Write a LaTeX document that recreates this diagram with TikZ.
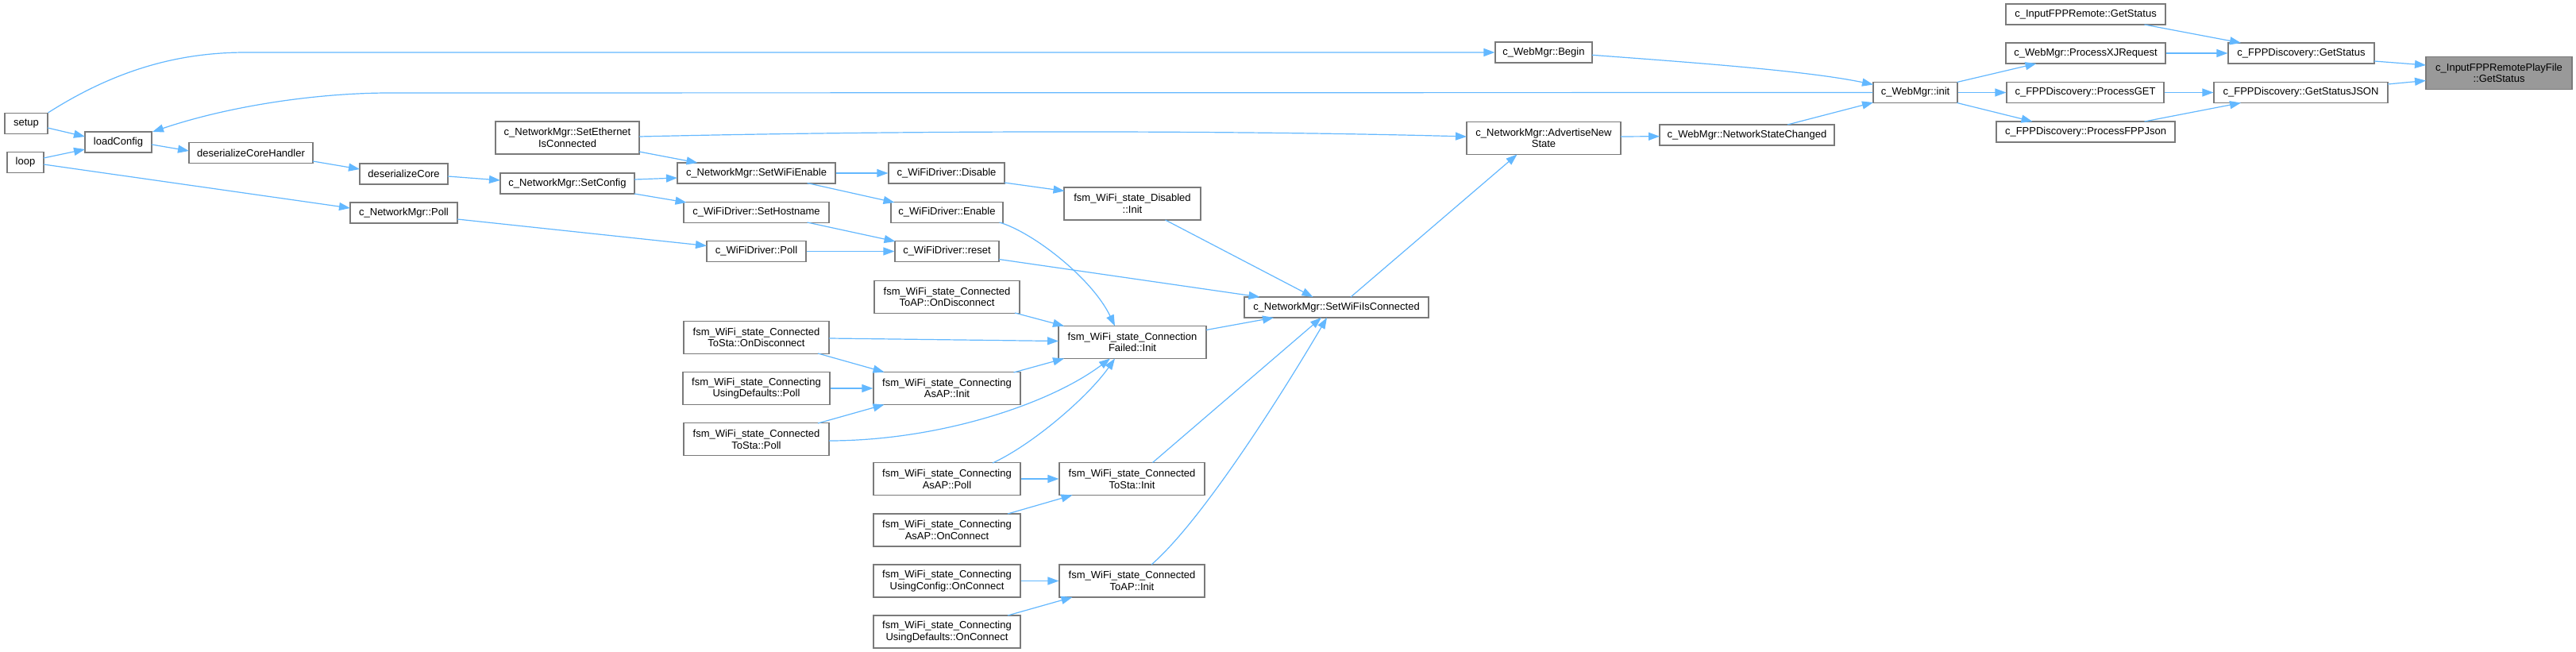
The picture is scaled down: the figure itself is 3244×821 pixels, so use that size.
\documentclass[tikz,border=0pt]{standalone}
\usepackage{fontspec}
\setmainfont{Liberation Sans}
\usetikzlibrary{calc,arrows.meta}
\definecolor{edgeblue}{HTML}{63B8FF}
\definecolor{boxgray}{HTML}{7A7A7A}
\definecolor{targetfill}{HTML}{999999}
\newcommand\fs{\fontsize{13}{14.7}\selectfont}
\tikzset{
  box/.style={draw=boxgray, fill=white, line width=1.1pt, inner sep=0pt, align=center, font=\fs, minimum height=26pt},
  boxtwo/.style={box, minimum height=41pt},
  edge/.style={draw=edgeblue, line width=1.2pt, -{Triangle[length=14pt,width=10pt]}},
}
\begin{document}
\begin{tikzpicture}[x=1pt,y=-1pt]
\useasboundingbox (0,0) rectangle (3244,821);
\fill[white] (0,0) rectangle (3244,821);
% nodes
\node[box, minimum width=54pt] (setup) at (33,155.5) {setup};
\node[box, minimum width=46pt] (loop) at (32,204.5) {loop};
\node[box, minimum width=84pt] (loadcfg) at (149,179) {loadConfig};
\node[box, minimum width=156pt] (dch) at (316,192.5) {deserializeCoreHandler};
\node[box, minimum width=111pt] (dcore) at (508.5,219) {deserializeCore};
\node[boxtwo, minimum width=181pt] (ether) at (714.5,173.5) {c\_NetworkMgr::SetEthernet\\IsConnected};
\node[box, minimum width=169pt] (setconfig) at (714.5,231) {c\_NetworkMgr::SetConfig};
\node[box, minimum width=135pt] (nmpoll) at (508.5,268) {c\_NetworkMgr::Poll};
\node[box, minimum width=199pt] (setenable) at (952.5,218) {c\_NetworkMgr::SetWiFiEnable};
\node[box, minimum width=183pt] (sethost) at (952.5,267.5) {c\_WiFiDriver::SetHostname};
\node[box, minimum width=125pt] (wdpoll) at (952.5,316.5) {c\_WiFiDriver::Poll};
\node[boxtwo, minimum width=183pt] (tostaondis) at (952.5,425) {fsm\_WiFi\_state\_Connected\\ToSta::OnDisconnect};
\node[boxtwo, minimum width=185pt] (udpoll) at (952.5,489) {fsm\_WiFi\_state\_Connecting\\UsingDefaults::Poll};
\node[boxtwo, minimum width=183pt] (tostapoll) at (952.5,553) {fsm\_WiFi\_state\_Connected\\ToSta::Poll};
\node[box, minimum width=146pt] (disable) at (1192,218) {c\_WiFiDriver::Disable};
\node[box, minimum width=141pt] (enable) at (1192.5,267.5) {c\_WiFiDriver::Enable};
\node[box, minimum width=131pt] (reset) at (1192.5,316.5) {c\_WiFiDriver::reset};
\node[boxtwo, minimum width=183pt] (toapondis) at (1192.5,374) {fsm\_WiFi\_state\_Connected\\ToAP::OnDisconnect};
\node[boxtwo, minimum width=185pt] (asapinit) at (1192.5,489) {fsm\_WiFi\_state\_Connecting\\AsAP::Init};
\node[boxtwo, minimum width=185pt] (asappoll) at (1192.5,603) {fsm\_WiFi\_state\_Connecting\\AsAP::Poll};
\node[boxtwo, minimum width=185pt] (asaponconn) at (1192.5,667.5) {fsm\_WiFi\_state\_Connecting\\AsAP::OnConnect};
\node[boxtwo, minimum width=185pt] (uconfonconn) at (1192.5,731.5) {fsm\_WiFi\_state\_Connecting\\UsingConfig::OnConnect};
\node[boxtwo, minimum width=185pt] (udonconn) at (1192.5,795.5) {fsm\_WiFi\_state\_Connecting\\UsingDefaults::OnConnect};
\node[boxtwo, minimum width=172pt] (disinit) at (1426,256.5) {fsm\_WiFi\_state\_Disabled\\::Init};
\node[boxtwo, minimum width=186pt] (cfinit) at (1426,431) {fsm\_WiFi\_state\_Connection\\Failed::Init};
\node[boxtwo, minimum width=183pt] (tostainit) at (1425.5,603) {fsm\_WiFi\_state\_Connected\\ToSta::Init};
\node[boxtwo, minimum width=183pt] (toapinit) at (1425.5,731.5) {fsm\_WiFi\_state\_Connected\\ToAP::Init};
\node[box, minimum width=232pt] (setwific) at (1683,387) {c\_NetworkMgr::SetWiFiIsConnected};
\node[box, minimum width=122pt] (begin) at (1944,66) {c\_WebMgr::Begin};
\node[boxtwo, minimum width=194pt] (adv) at (1944,174) {c\_NetworkMgr::AdvertiseNew\\State};
\node[box, minimum width=220pt] (nsc) at (2200,170) {c\_WebMgr::NetworkStateChanged};
\node[box, minimum width=106pt] (init) at (2412,116.5) {c\_WebMgr::init};
\node[box, minimum width=201pt] (ifpp) at (2626.5,18) {c\_InputFPPRemote::GetStatus};
\node[box, minimum width=201pt] (xj) at (2626.5,67) {c\_WebMgr::ProcessXJRequest};
\node[box, minimum width=198pt] (pget) at (2626,116.5) {c\_FPPDiscovery::ProcessGET};
\node[box, minimum width=225pt] (pfpp) at (2626.5,166) {c\_FPPDiscovery::ProcessFPPJson};
\node[box, minimum width=184pt] (fgs) at (2898,67) {c\_FPPDiscovery::GetStatus};
\node[box, minimum width=219pt] (gsj) at (2897.5,116.5) {c\_FPPDiscovery::GetStatusJSON};
\node[boxtwo, minimum width=184pt, fill=targetfill] (target) at (3147,92) {c\_InputFPPRemotePlayFile\\::GetStatus};
% edges
\draw[edge] (setup.north east) .. controls (150,85) and (230,66) .. (310,66) -- (begin.west);
\draw[edge] ($(setup)+(27,5.5)$) -- ($(loadcfg)+(-42,-7)$);
\draw[edge] ($(loop)+(23,-5.5)$) -- ($(loadcfg)+(-42,9)$);
\draw[edge] ($(loop)+(23,2.5)$) -- ($(nmpoll)+(-67.5,-6)$);
\draw[edge] (init.west) -- (491,117) .. controls (400,117) and (290,133) .. ($(loadcfg)+(43,-13)$);
\draw[edge] ($(loadcfg)+(42,3)$) -- ($(dch)+(-78,-2.5)$);
\draw[edge] ($(dch)+(78,10.5)$) -- ($(dcore)+(-55.5,-6)$);
\draw[edge] ($(dcore)+(55.5,3)$) -- ($(setconfig)+(-84.5,-4)$);
\draw[edge] ($(ether)+(90.5,17.5)$) -- ($(setenable)+(-74,-13)$);
\draw[edge] ($(ether)+(90.5,-1.5)$) .. controls (1150,164) and (1550,164) .. ($(adv)+(-97,-2)$);
\draw[edge] ($(setconfig)+(84.5,-5)$) -- ($(setenable)+(-99.5,6)$);
\draw[edge] ($(setconfig)+(84.5,13)$) -- ($(sethost)+(-88,-12.5)$);
\draw[edge] ($(nmpoll)+(67.5,8)$) -- ($(wdpoll)+(-62.5,-7)$);
\draw[edge] (setenable.east) -- (disable.west);
\draw[edge] ($(setenable)+(64,12.5)$) -- ($(enable)+(-66,-12.5)$);
\draw[edge] ($(sethost)+(64,12.5)$) -- ($(reset)+(-65,-12.5)$);
\draw[edge] (wdpoll.east) -- (reset.west);
\draw[edge] ($(disable)+(73,12)$) -- ($(disinit)+(-85.5,-16)$);
\draw[edge] ($(enable)+(66,12.5)$) .. controls (1300,292) and (1375,350) .. ($(cfinit)+(-22,-20.5)$);
\draw[edge] ($(reset)+(65.5,10)$) -- ($(setwific)+(-96.5,-13)$);
\draw[edge] ($(disinit)+(41.5,20.5)$) -- ($(setwific)+(-29.5,-13)$);
\draw[edge] ($(toapondis)+(85.5,20)$) -- ($(cfinit)+(-86,-20.5)$);
\draw[edge] ($(tostaondis)+(91.5,1)$) -- ($(cfinit)+(-93,-1.5)$);
\draw[edge] ($(tostaondis)+(77.5,20)$) -- ($(asapinit)+(-79,-20.5)$);
\draw[edge] (udpoll.east) -- (asapinit.west);
\draw[edge] ($(tostapoll)+(77.5,-20)$) -- ($(asapinit)+(-79,20.5)$);
\draw[edge] ($(tostapoll)+(91.5,2)$) .. controls (1180,555) and (1320,510) .. ($(cfinit)+(-28,20.5)$);
\draw[edge] ($(asapinit)+(84,-20)$) -- ($(cfinit)+(-86,20.5)$);
\draw[edge] ($(asappoll)+(57.5,-20)$) .. controls (1300,560) and (1370,500) .. ($(cfinit)+(-22,20.5)$);
\draw[edge] (asappoll.east) -- (tostainit.west);
\draw[edge] ($(asaponconn)+(76.5,-20.5)$) -- ($(tostainit)+(-75,20.5)$);
\draw[edge] (uconfonconn.east) -- (toapinit.west);
\draw[edge] ($(udonconn)+(76.5,-20.5)$) -- ($(toapinit)+(-75,20.5)$);
\draw[edge] ($(cfinit)+(93,-15.5)$) -- ($(setwific)+(-79,13)$);
\draw[edge] ($(tostainit)+(26,-20.5)$) -- ($(setwific)+(-19,13)$);
\draw[edge] ($(toapinit)+(24.5,-20.5)$) .. controls (1520,650) and (1630,470) .. ($(setwific)+(-12,13)$);
\draw[edge] ($(setwific)+(18,-13)$) -- ($(adv)+(-33.5,20.5)$);
\draw[edge] ($(adv)+(97,-2)$) -- ($(nsc)+(-110,1.7)$);
\draw[edge] ($(nsc)+(51,-13)$) -- ($(init)+(-53,12.5)$);
\draw[edge] ($(begin)+(61,3.3)$) .. controls (2150,80) and (2280,90) .. ($(init)+(-53,-10)$);
\draw[edge] ($(init)+(52.5,-13)$) -- ($(xj)+(-62,13)$);
\draw[edge] (init.east) -- (pget.west);
\draw[edge] ($(init)+(52.5,13)$) -- ($(pfpp)+(-67,-13)$);
\draw[edge] (xj.east) -- (fgs.west);
\draw[edge] ($(ifpp)+(74,13)$) -- ($(fgs)+(-76,-13)$);
\draw[edge] (pget.east) -- (gsj.west);
\draw[edge] ($(pfpp)+(74,-13)$) -- ($(gsj)+(-75.5,13)$);
\draw[edge] ($(fgs)+(92,10)$) -- ($(target)+(-92,-10)$);
\draw[edge] ($(gsj)+(109.5,-10.5)$) -- ($(target)+(-92,9.5)$);
\end{tikzpicture}
\end{document}
